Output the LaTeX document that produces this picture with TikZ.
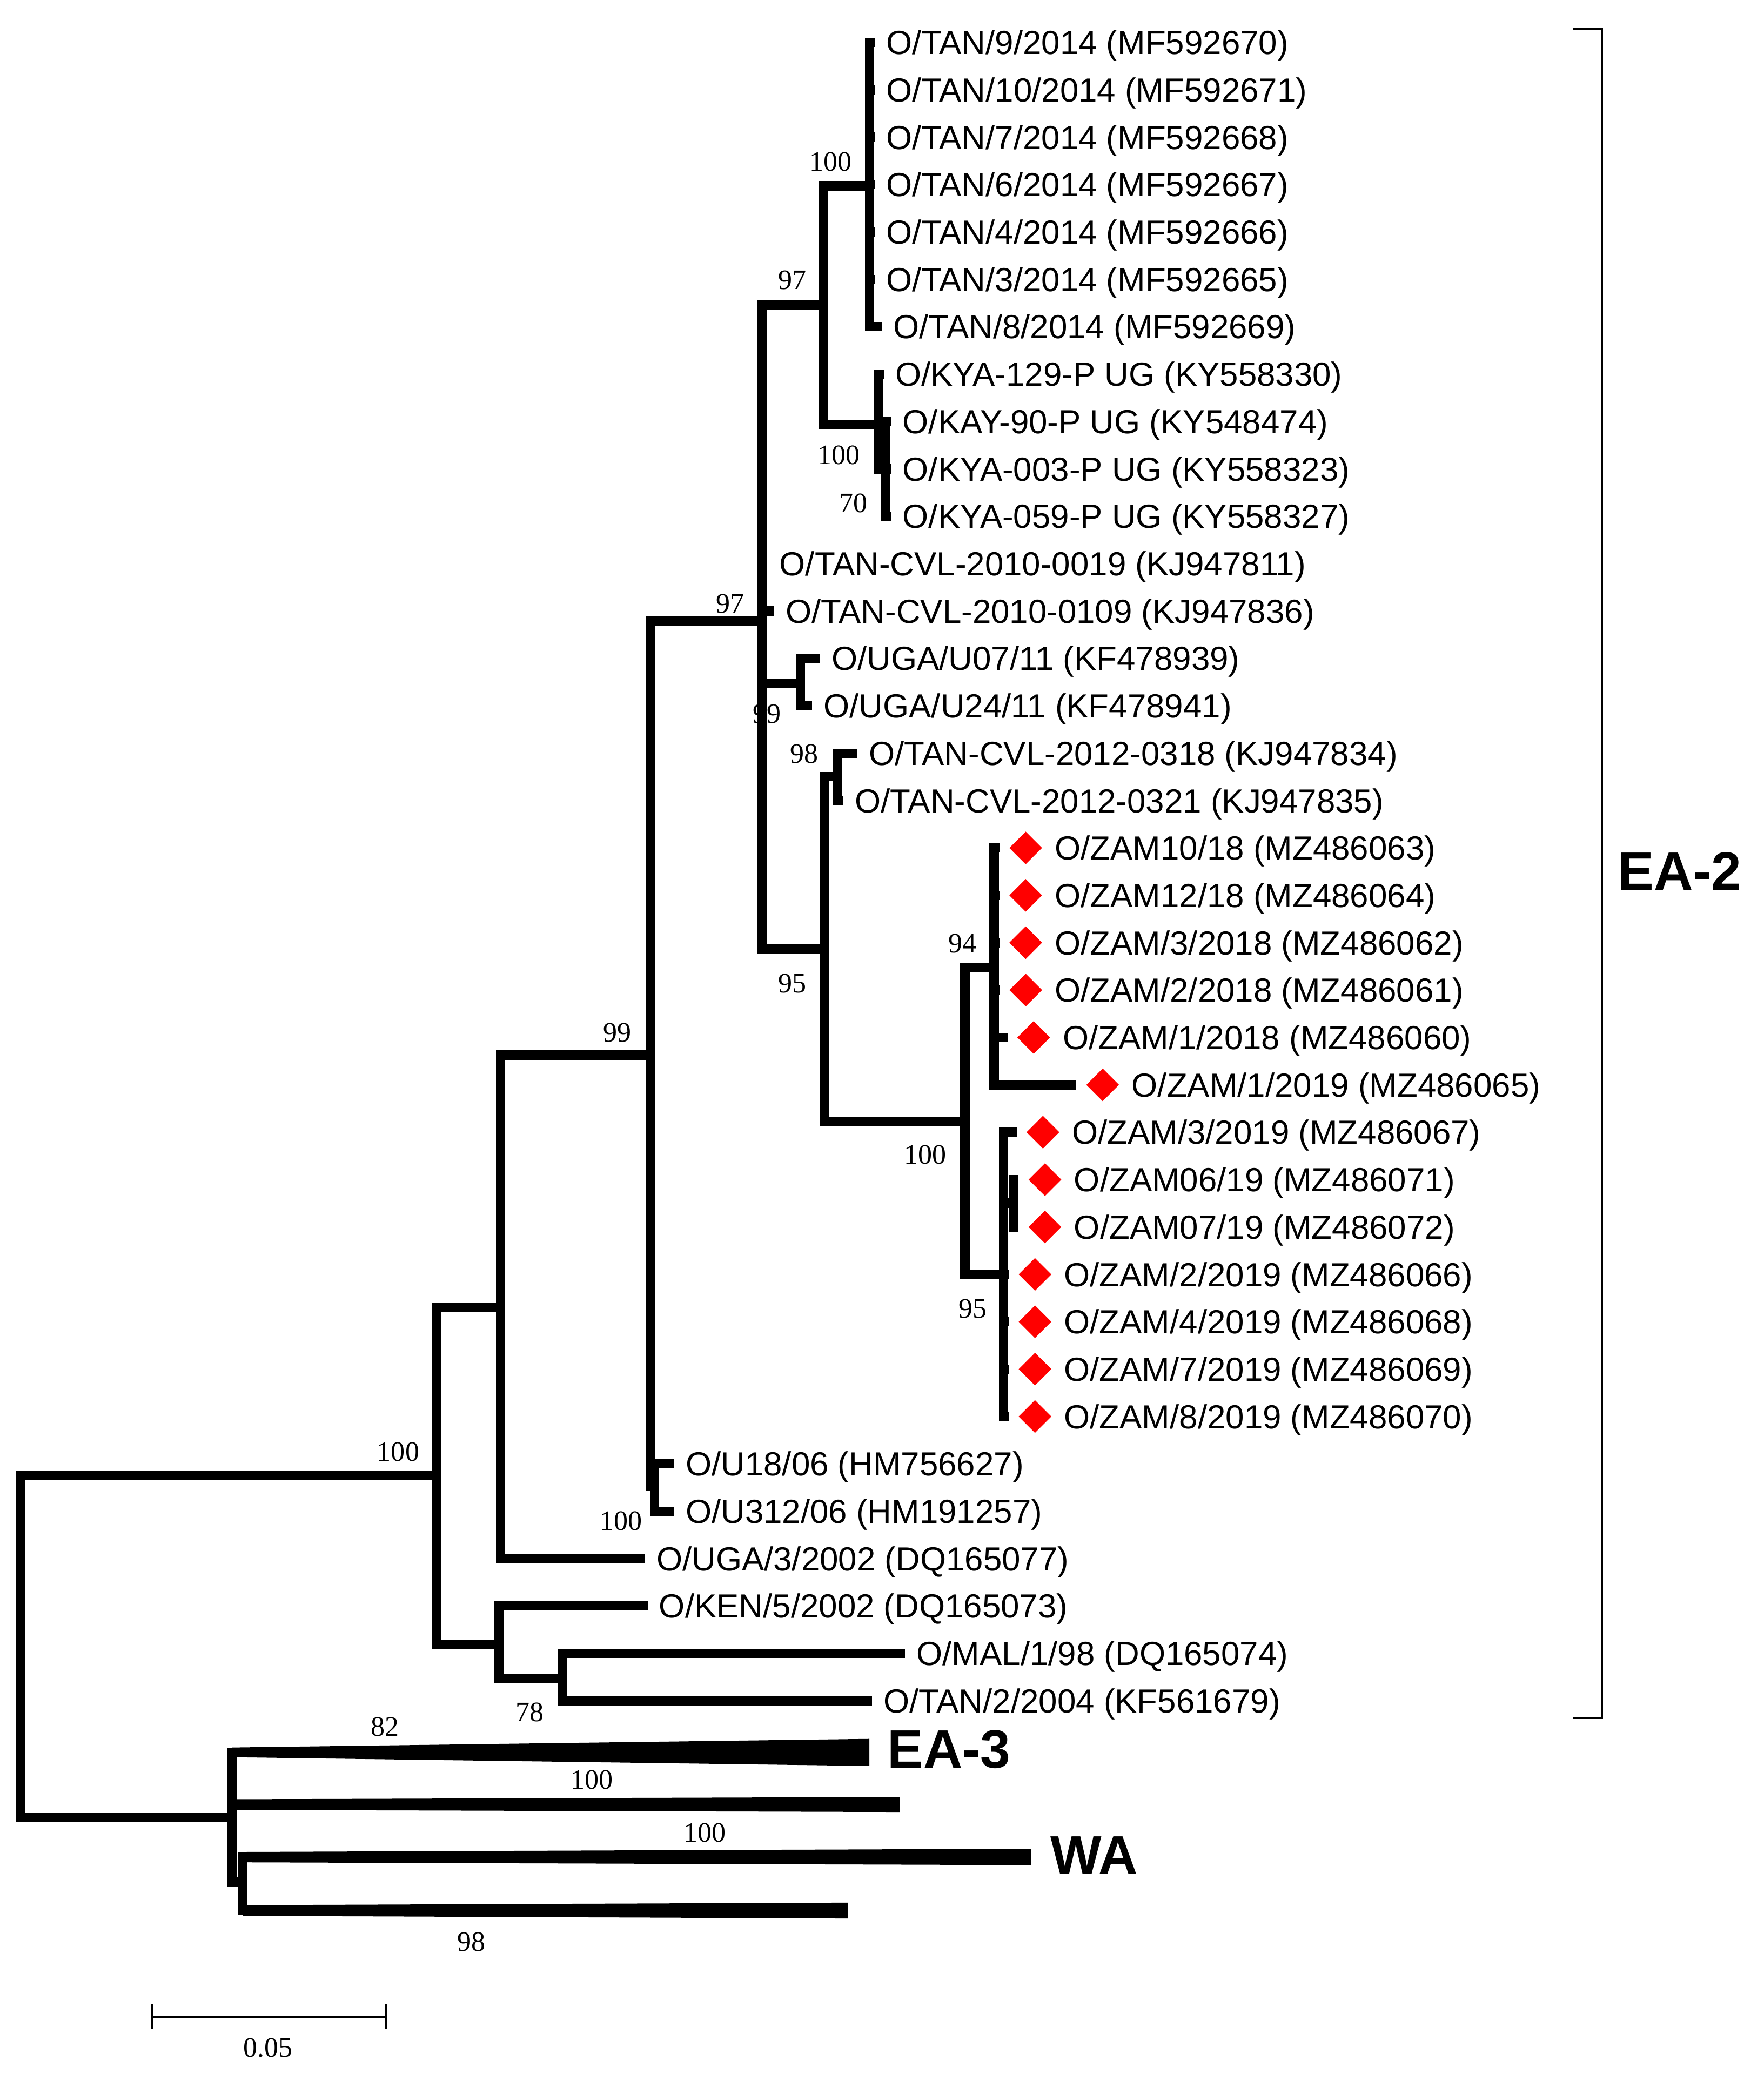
\documentclass[tikz,border=0pt]{standalone}
\usepackage{fontspec}
\setmainfont{Liberation Sans}
\newfontfamily\bootserif{Liberation Serif}
\usetikzlibrary{positioning}
\usetikzlibrary{calc}
\usetikzlibrary{shapes.geometric}
\tikzset{branch/.style = {line width=4.9pt, line cap=rect, line join=miter}}
\tikzset{leaf/.style = {inner sep=0, font=\fontsize{17.6}{20}\selectfont,
                        text height=12.6pt, text depth=0pt}}
\tikzset{boot/.style = {inner sep=0, font=\bootserif\fontsize{14.8}{16}\selectfont}}
\tikzset{zam/.style = {diamond, aspect=1, fill=red, inner sep=0, minimum size=0.61cm}}
\tikzset{clade/.style = {inner sep=0, font=\bfseries\fontsize{28.5}{32}\selectfont,
                         text height=20.4pt, text depth=0pt}}
\tikzset{scaleline/.style = {line width=1.1pt}}

\begin{document}
\begin{tikzpicture}[x=0.02456cm, y=-0.02456cm]
      \path[use as bounding box, fill=white] (0,0) rectangle (1329,1568);
      % internal nodes
      \coordinate (root) at (15.6,1240);
      \coordinate (nA) at (329,1112);
      \coordinate (nB) at (377,985);
      \coordinate (nC) at (376,1239);
      \coordinate (nD) at (424,1265);
      \coordinate (nE) at (490,795);
      \coordinate (nP) at (493,1120);
      \coordinate (nF) at (574,468);
      \coordinate (nG) at (603,515);
      \coordinate (nH) at (620.5,230);
      \coordinate (nI) at (655,140);
      \coordinate (nJ) at (662,320);
      \coordinate (nK) at (667.5,354);
      \coordinate (nQ) at (621,715);
      \coordinate (nS) at (631,585);
      \coordinate (nN) at (727,845);
      \coordinate (nT) at (749,729);
      \coordinate (nU) at (756,960);
      \coordinate (nZ) at (763.5,906.5);
      \coordinate (nL) at (175,1369);
      \coordinate (nM) at (183,1418);
      % tips
      \coordinate (t1) at (655.5,32);
      \coordinate (t2) at (655.5,67.7);
      \coordinate (t3) at (655.5,103.4);
      \coordinate (t4) at (655.5,139.1);
      \coordinate (t5) at (655.5,174.8);
      \coordinate (t6) at (655.5,210.5);
      \coordinate (t7) at (661,246.2);
      \coordinate (t8) at (662.5,281.9);
      \coordinate (t9) at (668,317.6);
      \coordinate (t10) at (668,353.3);
      \coordinate (t11) at (668,389);
      \coordinate (t12) at (574,424.7);
      \coordinate (t13) at (579.8,460.4);
      \coordinate (t14) at (614.5,496.1);
      \coordinate (t15) at (608.5,531.8);
      \coordinate (t16) at (642.5,567.5);
      \coordinate (t17) at (632,603.2);
      \coordinate (t18) at (749.5,638.9);
      \coordinate (t19) at (749.5,674.6);
      \coordinate (t20) at (749.5,710.3);
      \coordinate (t21) at (749.5,746);
      \coordinate (t22) at (755.5,781.7);
      \coordinate (t23) at (807.5,817.4);
      \coordinate (t24) at (762.5,853.1);
      \coordinate (t25) at (764,888.8);
      \coordinate (t26) at (764,924.5);
      \coordinate (t27) at (756.5,960.2);
      \coordinate (t28) at (756.5,995.9);
      \coordinate (t29) at (756.5,1031.6);
      \coordinate (t30) at (756.5,1067.3);
      \coordinate (t31) at (504.5,1103);
      \coordinate (t32) at (504.5,1138.7);
      \coordinate (t33) at (482.5,1174.4);
      \coordinate (t34) at (484.5,1210.1);
      \coordinate (t35) at (678.5,1245.8);
      \coordinate (t36) at (653.5,1281.5);
      \coordinate (ea3) at (651.5,1320.5);
      \coordinate (c2) at (674.5,1359.7);
      \coordinate (wa) at (773.5,1399.2);
      \coordinate (c4) at (635.5,1439.5);

      % bootstrap values
      \node [boot] (bI) at (626,122) {100};
      \node [boot] (bH) at (597,211) {97};
      \node [boot] (bJ) at (632,343) {100};
      \node [boot] (bK) at (643,379) {70};
      \node [boot] (bF) at (550,455) {97};
      \node [boot] (bG) at (578,538) {99};
      \node [boot] (bS) at (606,568) {98};
      \node [boot] (bQ) at (597,741) {95};
      \node [boot] (bT) at (725,711) {94};
      \node [boot] (bN) at (697,870) {100};
      \node [boot] (bU) at (733,986) {95};
      \node [boot] (bE) at (465,778) {99};
      \node [boot] (bP) at (468,1146) {100};
      \node [boot] (bA) at (300,1094) {100};
      \node [boot] (bD) at (399,1290) {78};
      \node [boot] (bea3) at (290,1301) {82};
      \node [boot] (bc2) at (446,1341) {100};
      \node [boot] (bwa) at (531,1381) {100};
      \node [boot] (bc4) at (355,1463) {98};

      % branches
      \foreach \src/\dst in {root/nA, root/nL, nA/nB, nA/nC, nB/nE, nB/t33, nC/t34, nC/nD,
                             nD/t35, nD/t36, nE/nF, nE/nP, nP/t31, nP/t32,
                             nF/nH, nF/t13, nF/nG, nF/nQ, nG/t14, nG/t15,
                             nH/nI, nH/nJ, nI/t1, nI/t2, nI/t3, nI/t4, nI/t5, nI/t6, nI/t7,
                             nJ/t8, nJ/nK, nK/t9, nK/t10, nK/t11,
                             nQ/nS, nQ/nN, nS/t16, nS/t17, nN/nT, nN/nU,
                             nT/t18, nT/t19, nT/t20, nT/t21, nT/t22, nT/t23,
                             nU/t24, nU/nZ, nZ/t25, nZ/t26, nU/t27, nU/t28, nU/t29, nU/t30,
                             nL/ea3, nL/c2, nL/nM, nM/wa, nM/c4}
        \draw [branch] (\src) |- (\dst);
      \draw [branch, line cap=butt] (nF) -- (t12);

      % collapsed clades
      \fill ($(nL |- ea3)+(0,-3.8)$) -- ($(ea3)+(3.5,-10.3)$) -- ($(ea3)+(3.5,10.1)$) -- ($(nL |- ea3)+(0,3.5)$) -- cycle;
      \fill ($(nL |- c2)+(0,-4)$) -- ($(c2)+(3.5,-5.7)$) -- ($(c2)+(3.5,5.6)$) -- ($(nL |- c2)+(0,4)$) -- cycle;
      \fill ($(nM |- wa)+(0,-3.8)$) -- ($(wa)+(3.5,-6.2)$) -- ($(wa)+(3.5,6.1)$) -- ($(nM |- wa)+(0,4)$) -- cycle;
      \fill ($(nM |- c4)+(0,-4)$) -- ($(c4)+(3.5,-5.9)$) -- ($(c4)+(3.5,6)$) -- ($(nM |- c4)+(0,4)$) -- cycle;

      % taxa
      \node [leaf, right=0.29cm of t1] (l1) {O/TAN/9/2014 (MF592670)};
      \node [leaf, right=0.29cm of t2] (l2) {O/TAN/10/2014 (MF592671)};
      \node [leaf, right=0.29cm of t3] (l3) {O/TAN/7/2014 (MF592668)};
      \node [leaf, right=0.29cm of t4] (l4) {O/TAN/6/2014 (MF592667)};
      \node [leaf, right=0.29cm of t5] (l5) {O/TAN/4/2014 (MF592666)};
      \node [leaf, right=0.29cm of t6] (l6) {O/TAN/3/2014 (MF592665)};
      \node [leaf, right=0.29cm of t7] (l7) {O/TAN/8/2014 (MF592669)};
      \node [leaf, right=0.29cm of t8] (l8) {O/KYA-129-P UG (KY558330)};
      \node [leaf, right=0.29cm of t9] (l9) {O/KAY-90-P UG (KY548474)};
      \node [leaf, right=0.29cm of t10] (l10) {O/KYA-003-P UG (KY558323)};
      \node [leaf, right=0.29cm of t11] (l11) {O/KYA-059-P UG (KY558327)};
      \node [leaf, right=0.32cm of t12] (l12) {O/TAN-CVL-2010-0019 (KJ947811)};
      \node [leaf, right=0.29cm of t13] (l13) {O/TAN-CVL-2010-0109 (KJ947836)};
      \node [leaf, right=0.29cm of t14] (l14) {O/UGA/U07/11 (KF478939)};
      \node [leaf, right=0.29cm of t15] (l15) {O/UGA/U24/11 (KF478941)};
      \node [leaf, right=0.29cm of t16] (l16) {O/TAN-CVL-2012-0318 (KJ947834)};
      \node [leaf, right=0.29cm of t17] (l17) {O/TAN-CVL-2012-0321 (KJ947835)};
      \node [zam, right=0.26cm of t18] (d18) {};
      \node [leaf, right=0.22cm of d18] (l18) {O/ZAM10/18 (MZ486063)};
      \node [zam, right=0.26cm of t19] (d19) {};
      \node [leaf, right=0.22cm of d19] (l19) {O/ZAM12/18 (MZ486064)};
      \node [zam, right=0.26cm of t20] (d20) {};
      \node [leaf, right=0.22cm of d20] (l20) {O/ZAM/3/2018 (MZ486062)};
      \node [zam, right=0.26cm of t21] (d21) {};
      \node [leaf, right=0.22cm of d21] (l21) {O/ZAM/2/2018 (MZ486061)};
      \node [zam, right=0.26cm of t22] (d22) {};
      \node [leaf, right=0.22cm of d22] (l22) {O/ZAM/1/2018 (MZ486060)};
      \node [zam, right=0.26cm of t23] (d23) {};
      \node [leaf, right=0.22cm of d23] (l23) {O/ZAM/1/2019 (MZ486065)};
      \node [zam, right=0.26cm of t24] (d24) {};
      \node [leaf, right=0.22cm of d24] (l24) {O/ZAM/3/2019 (MZ486067)};
      \node [zam, right=0.26cm of t25] (d25) {};
      \node [leaf, right=0.22cm of d25] (l25) {O/ZAM06/19 (MZ486071)};
      \node [zam, right=0.26cm of t26] (d26) {};
      \node [leaf, right=0.22cm of d26] (l26) {O/ZAM07/19 (MZ486072)};
      \node [zam, right=0.26cm of t27] (d27) {};
      \node [leaf, right=0.22cm of d27] (l27) {O/ZAM/2/2019 (MZ486066)};
      \node [zam, right=0.26cm of t28] (d28) {};
      \node [leaf, right=0.22cm of d28] (l28) {O/ZAM/4/2019 (MZ486068)};
      \node [zam, right=0.26cm of t29] (d29) {};
      \node [leaf, right=0.22cm of d29] (l29) {O/ZAM/7/2019 (MZ486069)};
      \node [zam, right=0.26cm of t30] (d30) {};
      \node [leaf, right=0.22cm of d30] (l30) {O/ZAM/8/2019 (MZ486070)};
      \node [leaf, right=0.29cm of t31] (l31) {O/U18/06 (HM756627)};
      \node [leaf, right=0.29cm of t32] (l32) {O/U312/06 (HM191257)};
      \node [leaf, right=0.29cm of t33] (l33) {O/UGA/3/2002 (DQ165077)};
      \node [leaf, right=0.29cm of t34] (l34) {O/KEN/5/2002 (DQ165073)};
      \node [leaf, right=0.29cm of t35] (l35) {O/MAL/1/98 (DQ165074)};
      \node [leaf, right=0.29cm of t36] (l36) {O/TAN/2/2004 (KF561679)};
      \node [clade, right=0.41cm of ea3, yshift=0.07cm] (lea3) {EA-3};
      \node [clade, right=0.44cm of wa, yshift=0.05cm] (lwa) {WA};

      % EA-2 bracket
      \coordinate (br0) at (1207,21.4);
      \coordinate (br1) at (1207,1294.4);
      \coordinate (brmid) at (1207,656);
      \draw [scaleline] ($(br0)+(-21.5,0)$) -- (br0) -- (br1) -- ($(br1)+(-21.5,0)$);
      \node [clade, right=0.29cm of brmid] (lea2) {EA-2};

      % scale bar
      \coordinate (sb0) at (114.3,1519.6);
      \coordinate (sb1) at (290.8,1519.6);
      \draw [scaleline] (sb0) -- (sb1);
      \draw [scaleline] ($(sb0)+(0,-9.5)$) -- ($(sb0)+(0,9.5)$);
      \draw [scaleline] ($(sb1)+(0,-9.5)$) -- ($(sb1)+(0,9.5)$);
      \node [boot] (sblabel) at (202,1543) {0.05};
\end{tikzpicture}
\end{document}
